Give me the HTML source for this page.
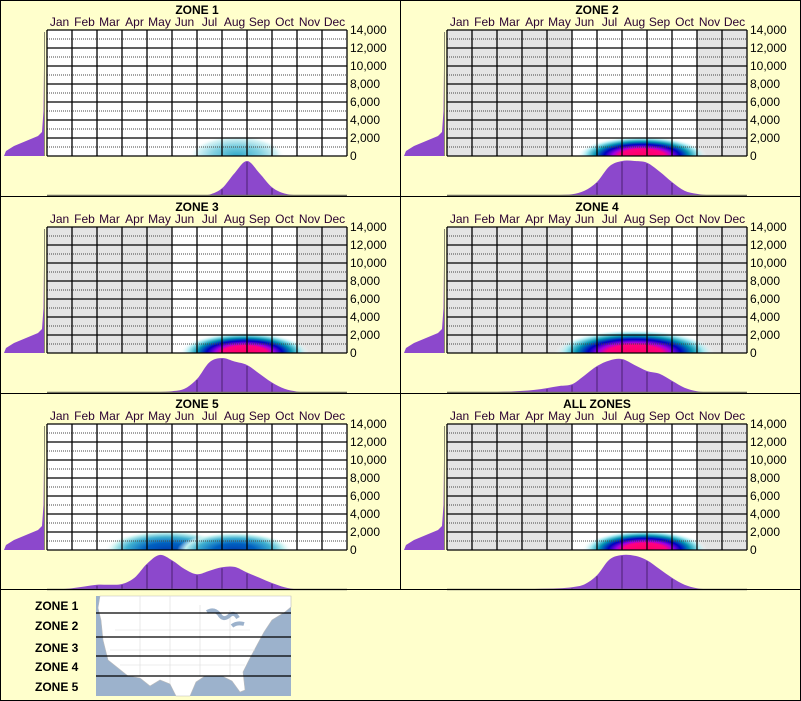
<!DOCTYPE html>
<html><head><meta charset="utf-8"><style>
body{margin:0;background:#fff}
svg{display:block;font-family:"Liberation Sans",sans-serif}
</style></head><body>
<svg id="c" width="801" height="701" viewBox="0 0 801 701" xmlns="http://www.w3.org/2000/svg">
<rect x="0" y="0" width="801" height="701" fill="#ffffcc"/>
<defs>
<radialGradient id="gHot"><stop offset="0" stop-color="#ff0060"/><stop offset="0.35" stop-color="#ff0080"/><stop offset="0.45" stop-color="#a000e0"/><stop offset="0.58" stop-color="#0000c0"/><stop offset="0.72" stop-color="#0090b0"/><stop offset="0.86" stop-color="#a0e8f0"/><stop offset="1" stop-color="#ffffff" stop-opacity="0"/></radialGradient>
<radialGradient id="gMid"><stop offset="0" stop-color="#0040b0"/><stop offset="0.35" stop-color="#0060c0"/><stop offset="0.65" stop-color="#40b0d0"/><stop offset="0.85" stop-color="#c0f0f0"/><stop offset="1" stop-color="#ffffff" stop-opacity="0"/></radialGradient>
<radialGradient id="gLow"><stop offset="0" stop-color="#30a8c8"/><stop offset="0.5" stop-color="#80d0e0"/><stop offset="0.85" stop-color="#d8f4f6"/><stop offset="1" stop-color="#ffffff" stop-opacity="0"/></radialGradient>
</defs>
<g id="panels"></g>
<g>
<text x="35" y="610" font-size="12" font-weight="bold">ZONE 1</text>
<text x="35" y="630" font-size="12" font-weight="bold">ZONE 2</text>
<text x="35" y="652" font-size="12" font-weight="bold">ZONE 3</text>
<text x="35" y="671" font-size="12" font-weight="bold">ZONE 4</text>
<text x="35" y="691" font-size="12" font-weight="bold">ZONE 5</text>
<rect x="96" y="596" width="195" height="100" fill="#9cb2cc"/>
<path d="M100,596 L291,596 L291,607 L285,612 L272,620 L264,632 L257,645 L249,660 L243,672 L245,690 L240,692 L232,681 L222,676 L205,676 L196,682 L190,696 L176,696 L170,684 L160,680 L150,686 L140,678 L128,676 L118,668 L108,660 L103,640 L101,620 L98,608 Z" fill="#ffffff" stroke="#bbb" stroke-width="0.6"/>
<g stroke="#ddd" stroke-width="0.6" fill="none">
<path d="M140,596 L140,676 M170,596 L170,684 M200,605 L200,676 M115,630 L250,630 M110,650 L255,650 M120,665 L245,665 M230,610 L230,676"/>
</g>
<path d="M207,612 q7,-4 12,2 q4,7 10,2 q5,-5 9,2 M232,626 q5,-4 12,-2" stroke="#9cb2cc" stroke-width="4" fill="none"/>
<g stroke="#000" stroke-width="1.2">
<line x1="96" y1="613" x2="291" y2="613"/><line x1="96" y1="637" x2="291" y2="637"/><line x1="96" y1="656" x2="291" y2="656"/><line x1="96" y1="676" x2="291" y2="676"/>
</g>
</g>
<g stroke="#000" stroke-width="1" fill="none">
<rect x="0.5" y="0.5" width="800" height="700"/>
<line x1="400.5" y1="0" x2="400.5" y2="589"/>
<line x1="0" y1="196.5" x2="801" y2="196.5"/>
<line x1="0" y1="393.5" x2="801" y2="393.5"/>
<line x1="0" y1="589.5" x2="801" y2="589.5"/>
</g>
</svg>
<script>
const months = ["Jan","Feb","Mar","Apr","May","Jun","Jul","Aug","Sep","Oct","Nov","Dec"];
const yTicks = [0,2000,4000,6000,8000,10000,12000,14000];
const yTickLabels = ["0","2,000","4,000","6,000","8,000","10,000","12,000","14,000"];
const zoneTitles = ["ZONE 1","ZONE 2","ZONE 3","ZONE 4","ZONE 5","ALL ZONES"];
const grayMonths = [[],[0,1,2,3,4,10,11],[0,1,2,3,4,10,11],[0,1,2,3,4,10,11],[],[0,1,2,3,4,10,11]];
// density per half-month point (25 points, month index = i/2)
const dens1 = [0,0,0,0,0,0,0,0,0,0,0,0,0.01,0.04,0.22,0.65,1,0.65,0.25,0.07,0.02,0,0,0,0];
const dens2 = [0,0,0,0,0,0,0.01,0.01,0.02,0.03,0.05,0.15,0.4,0.85,1,1,0.95,0.7,0.4,0.15,0.06,0.02,0,0,0];
const dens3 = [0,0,0,0,0,0,0.01,0.01,0.02,0.03,0.05,0.12,0.4,0.88,1,0.9,0.8,0.55,0.3,0.12,0.04,0.01,0,0,0];
const dens4 = [0,0,0.01,0.02,0.03,0.04,0.06,0.09,0.14,0.2,0.25,0.5,0.77,0.93,0.97,0.8,0.63,0.55,0.35,0.15,0.05,0.02,0,0,0];
const dens5 = [0,0.02,0.05,0.1,0.15,0.15,0.17,0.35,0.75,1,0.85,0.6,0.45,0.55,0.65,0.66,0.5,0.35,0.2,0.08,0.02,0,0,0,0];
const densAll = [0,0,0,0,0,0.01,0.02,0.03,0.04,0.05,0.08,0.16,0.42,0.87,1,0.98,0.85,0.6,0.35,0.15,0.05,0.02,0,0,0];
const densities = [dens1,dens2,dens3,dens4,dens5,densAll];
// heat blobs: [center month (0..12 scale), spread months, elevation spread ft, intensity level]
const heat1 = [[7.6,1.9,2300,"gLow"]];
const heat2 = [[7.8,2.6,2200,"gHot"]];
const heat3 = [[7.9,2.6,2300,"gHot"]];
const heat4 = [[7.5,3.2,2600,"gHot"]];
const heat5 = [[4.8,2.5,2200,"gMid"],[7.5,2.3,2000,"gMid"]];
const heatAll = [[7.9,2.5,2200,"gHot"]];
const heats = [heat1,heat2,heat3,heat4,heat5,heatAll];

const NS="http://www.w3.org/2000/svg";
const root=document.getElementById('panels');
function mk(tag,attrs,parent){const e=document.createElementNS(NS,tag);for(const k in attrs)e.setAttribute(k,attrs[k]);parent.appendChild(e);return e;}
function smooth(pts){
  let d=`M${pts[0][0]},${pts[0][1]}`;
  for(let i=0;i<pts.length-1;i++){
    const p0=pts[Math.max(i-1,0)],p1=pts[i],p2=pts[i+1],p3=pts[Math.min(i+2,pts.length-1)];
    const c1x=p1[0]+(p2[0]-p0[0])/6,c1y=p1[1]+(p2[1]-p0[1])/6;
    const c2x=p2[0]-(p3[0]-p1[0])/6,c2y=p2[1]-(p3[1]-p1[1])/6;
    d+=` C${c1x},${c1y} ${c2x},${c2y} ${p2[0]},${p2[1]}`;
  }
  return d;
}
const origins=[[0,0],[400,0],[0,197],[400,197],[0,394],[400,394]];
zoneTitles.forEach((title,z)=>{
  const ox=origins[z][0], oy=origins[z][1];
  const gl=ox+47, gr=ox+347, gt=oy+30, gb=oy+156;
  const xs=m=>gl+(m/12)*(gr-gl);
  const ys=v=>gb-(v/14000)*(gb-gt);
  const g=mk('g',{},root);
  
  
  const t=mk('text',{x:ox+197,y:oy+14,'font-size':12,'font-weight':'bold','text-anchor':'middle'},g);
  t.textContent=title;
  
  
  months.forEach((m,i)=>{
    const lt=mk('text',{x:xs(i+0.5),y:oy+26,'font-size':12,'text-anchor':'middle',fill:'#2a0030'},g);
    lt.textContent=m;
    
    
    const c=mk('rect',{x:xs(i),y:gt,width:xs(i+1)-xs(i),height:gb-gt,fill:grayMonths[z].includes(i)?'#e4e4e4':'#ffffff'},g);
    
    
  });
  const cid='clip'+z;
  const cp=mk('clipPath',{id:cid},g);
  mk('rect',{x:gl,y:gt,width:gr-gl,height:gb-gt},cp);
  const hg=mk('g',{'clip-path':'url(#'+cid+')'},g);
  heats[z].forEach(h=>{
    const e=mk('ellipse',{cx:xs(h[0]),cy:gb,rx:xs(h[1])-gl,ry:gb-ys(h[2]),fill:'url(#'+h[3]+')'},hg);
    
    
  });
  for(let k=0;k<7;k++){
    const mid=(yTicks[k]+yTicks[k+1])/2;
    const d=mk('line',{x1:gl,x2:gr,y1:ys(mid),y2:ys(mid),stroke:'#444','stroke-width':1,'stroke-dasharray':'1,1'},g);
    
    
  }
  yTicks.forEach((v,k)=>{
    const l=mk('line',{x1:gl,x2:gr,y1:ys(v),y2:ys(v),stroke:'#000','stroke-width':1.3},g);
    
    
    const tl=mk('text',{x:ox+350,y:ys(v)+4,'font-size':12,fill:'#000'},g);
    tl.textContent=yTickLabels[k];
    
    
  });
  for(let i=0;i<=12;i++){
    const l=mk('line',{x1:xs(i),x2:xs(i),y1:gt,y2:gb,stroke:'#000','stroke-width':1.3},g);
    
    
  }
  // left elevation density
  const ld=mk('path',{d:`M${ox+4},${gb} L${ox+6},${gb-5} L${ox+14},${gb-10} L${ox+26},${gb-15} L${ox+38},${gb-20} L${ox+42},${gb-24} L${ox+43.5},${gb-45} L${ox+44},${gb-90} L${ox+44},${gb} Z`,fill:'#8c48cc'},g);
  
  
  const la=mk('line',{x1:ox+44.5,x2:ox+44.5,y1:gt+2,y2:gb,stroke:'#8a8a70','stroke-width':1},g);
  
  
  // bottom month density
  const base=oy+196, H=35, dv=densities[z];
  const pts=dv.map((v,i)=>[xs(i/2),base-v*H]);
  const p=smooth(pts)+` L${xs(12)},${base} L${xs(0)},${base} Z`;
  const bd=mk('path',{d:p,fill:'#8c48cc'},g);
  
  
  for(let i=1;i<12;i++){
    const v=dv[i*2];
    if(v>0.02){
      const l=mk('line',{x1:xs(i),x2:xs(i),y1:base,y2:base-v*H+1,stroke:'#4a2070','stroke-width':1},g);
      
      
    }
  }
  const bl=mk('line',{x1:gl,x2:gr,y1:base-0.5,y2:base-0.5,stroke:'#707060','stroke-width':1.5},g);
  
  
});
</script>
</body></html>
